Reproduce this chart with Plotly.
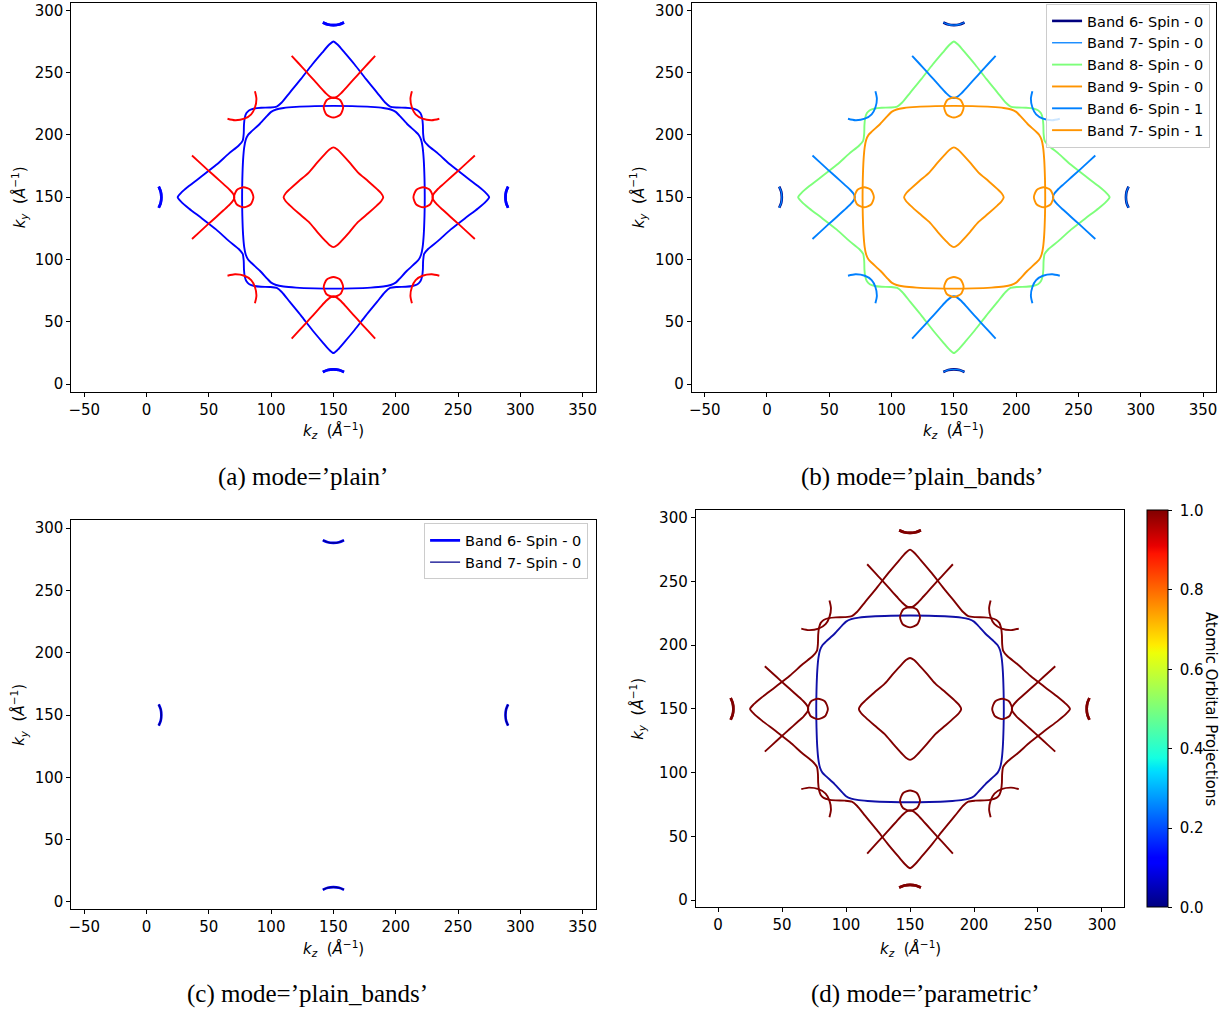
import plotly.graph_objects as go

# ---------------- data (k_z, k_y) ----------------
# Band 8 / spin 0 : outer contour
OUTER_X = [150,146.5,141,133,124,115,108.5,104.5,99,92,86.5,82.5,80.2,78.8,78.2,78,77.2,74,66,56,44.5,34,27.7,25,
           27.7,34,44.5,56,66,74,77.2,78,78.2,78.8,80.2,82.5,86.5,92,99,104.5,108.5,115,124,133,141,146.5,150,
           153.5,159,167,176,185,191.5,195.5,201,208,213.5,217.5,219.8,221.2,221.8,222,222.8,226,234,244,255.5,266,272.3,275,
           272.3,266,255.5,244,234,226,222.8,222,221.8,221.2,219.8,217.5,213.5,208,201,195.5,191.5,185,176,167,159,153.5,150]
OUTER_Y = [275,272.3,266,256.5,245,234,226,222.8,222,221.8,221.2,219.8,217.5,213.5,208,201,195.5,191.5,185,176,167,159,153.5,150,
           146.5,141,133,124,115,108.5,104.5,99,92,86.5,82.5,80.2,78.8,78.2,78,77.2,74,66,55,43.5,34,27.7,25,
           27.7,34,43.5,55,66,74,77.2,78,78.2,78.8,80.2,82.5,86.5,92,99,104.5,108.5,115,124,133,141,146.5,150,
           153.5,159,167,176,185,191.5,195.5,201,208,213.5,217.5,219.8,221.2,221.8,222,222.8,226,234,245,256.5,266,272.3,275]

# Band 9 / spin 0 : rounded square
INNER_X = [150,135,120,110,104,100,97,91,84.5,81.5,79.6,78.4,77.5,76.9,76.7,
           76.9,77.5,78.4,79.6,81.5,84.5,91,97,100,104,110,120,135,150,
           165,180,190,196,200,203,209,215.5,218.5,220.4,221.6,222.5,223.1,223.3,
           223.1,222.5,221.6,220.4,218.5,215.5,209,203,200,196,190,180,165,150]
INNER_Y = [223.3,223.1,222.5,221.6,220.4,218.5,215.5,209,203,200,196,190,180,165,150,
           135,120,110,104,100,97,91,84.5,81.5,79.6,78.4,77.5,76.9,76.7,
           76.9,77.5,78.4,79.6,81.5,84.5,91,97,100,104,110,120,135,150,
           165,180,190,196,200,203,209,215.5,218.5,220.4,221.6,222.5,223.1,223.3]

# Band 7 / spin 1 : central diamond and four small pockets
DIAMOND_X = [150,146.8,143.5,137.1,130.2,122.1,115,111.7,110,111.7,115,122.1,130.2,137.1,143.5,146.8,150,
             153.2,156.5,162.9,169.8,177.9,185,188.3,190,188.3,185,177.9,169.8,162.9,156.5,153.2,150]
DIAMOND_Y = [190,188.3,185,177.9,169.8,162.9,156.5,153.2,150,146.8,143.5,137.1,130.2,122.1,115,111.7,110,
             111.7,115,122.1,130.2,137.1,143.5,146.8,150,153.2,156.5,162.9,169.8,177.9,185,188.3,190]
POCKET_TOP_X = [157.8,155.5,150,144.5,142.2,144.5,150,155.5,157.8]
POCKET_TOP_Y = [222,227.8,230,227.8,222,216.2,214,216.2,222]
POCKET_BOT_X = [157.8,155.5,150,144.5,142.2,144.5,150,155.5,157.8]
POCKET_BOT_Y = [78,83.8,86,83.8,78,72.2,70,72.2,78]
POCKET_LEFT_X = [85.8,83.5,78,72.5,70.2,72.5,78,83.5,85.8]
POCKET_LEFT_Y = [150,155.8,158,155.8,150,144.2,142,144.2,150]
POCKET_RIGHT_X = [229.8,227.5,222,216.5,214.2,216.5,222,227.5,229.8]
POCKET_RIGHT_Y = [150,155.8,158,155.8,150,144.2,142,144.2,150]

# Band 6 / spin 1 : crossing branches and corner arcs
XTOP_X = [116.5,122,128,134,139.5,144,147.3,150,152.7,156,160.5,166,172,178,183.5]
XTOP_Y = [263.5,257.5,251,244.3,238.2,233.3,230.5,229.5,230.5,233.3,238.2,244.3,251,257.5,263.5]
XBOT_X = [116.5,122,128,134,139.5,144,147.3,150,152.7,156,160.5,166,172,178,183.5]
XBOT_Y = [36.5,42.5,49,55.7,61.8,66.7,69.5,70.5,69.5,66.7,61.8,55.7,49,42.5,36.5]
XLEFT_X = [36.5,42.5,49,55.7,61.8,66.7,69.5,70.5,69.5,66.7,61.8,55.7,49,42.5,36.5]
XLEFT_Y = [183.5,178,172,166,160.5,156,152.7,150,147.3,144,139.5,134,128,122,116.5]
XRIGHT_X = [263.5,257.5,251,244.3,238.2,233.3,230.5,229.5,230.5,233.3,238.2,244.3,251,257.5,263.5]
XRIGHT_Y = [183.5,178,172,166,160.5,156,152.7,150,147.3,144,139.5,134,128,122,116.5]
ARC_TL_X = [87,88.2,87,84,78.5,71,65]
ARC_TL_Y = [235,229,222,216.5,213,211.8,213]
ARC_TR_X = [213,211.8,213,216,221.5,229,235]
ARC_TR_Y = [235,229,222,216.5,213,211.8,213]
ARC_BL_X = [87,88.2,87,84,78.5,71,65]
ARC_BL_Y = [65,71,78,83.5,87,88.2,87]
ARC_BR_X = [213,211.8,213,216,221.5,229,235]
ARC_BR_Y = [65,71,78,83.5,87,88.2,87]

# Bands 6 and 7 / spin 0 : small arcs at the zone edges
EDGE_TOP_X = [141.5,145.5,150,154.5,158.5]
EDGE_TOP_Y = [290.2,288.6,288.1,288.6,290.2]
EDGE_BOT_X = [141.5,145.5,150,154.5,158.5]
EDGE_BOT_Y = [9.8,11.4,11.9,11.4,9.8]
EDGE_LEFT_X = [9.8,11.4,11.9,11.4,9.8]
EDGE_LEFT_Y = [141.5,145.5,150,154.5,158.5]
EDGE_RIGHT_X = [290.2,288.6,288.1,288.6,290.2]
EDGE_RIGHT_Y = [141.5,145.5,150,154.5,158.5]

X_TICKS = [-50, 0, 50, 100, 150, 200, 250, 300, 350]
X_TICKS_D = [0, 50, 100, 150, 200, 250, 300]
Y_TICKS = [0, 50, 100, 150, 200, 250, 300]
CB_TICKS = [0.0, 0.2, 0.4, 0.6, 0.8, 1.0]
CAPTIONS = ["(a) mode=’plain’", "(b) mode=’plain_bands’",
            "(c) mode=’plain_bands’", "(d) mode=’parametric’"]
LEGEND_B = ["Band 6- Spin - 0", "Band 7- Spin - 0", "Band 8- Spin - 0",
            "Band 9- Spin - 0", "Band 6- Spin - 1", "Band 7- Spin - 1"]


def join(*segs):
    xs, ys = [], []
    for sx, sy in segs:
        if xs:
            xs.append(None)
            ys.append(None)
        xs += list(sx)
        ys += list(sy)
    return xs, ys


EDGES = join((EDGE_TOP_X, EDGE_TOP_Y), (EDGE_BOT_X, EDGE_BOT_Y),
             (EDGE_LEFT_X, EDGE_LEFT_Y), (EDGE_RIGHT_X, EDGE_RIGHT_Y))
BANDS = {
    "b6s0": EDGES,
    "b7s0": EDGES,
    "b8s0": (OUTER_X, OUTER_Y),
    "b9s0": (INNER_X, INNER_Y),
    "b6s1": join((XTOP_X, XTOP_Y), (XBOT_X, XBOT_Y), (XLEFT_X, XLEFT_Y), (XRIGHT_X, XRIGHT_Y),
                 (ARC_TL_X, ARC_TL_Y), (ARC_TR_X, ARC_TR_Y), (ARC_BL_X, ARC_BL_Y), (ARC_BR_X, ARC_BR_Y)),
    "b7s1": join((DIAMOND_X, DIAMOND_Y), (POCKET_TOP_X, POCKET_TOP_Y), (POCKET_BOT_X, POCKET_BOT_Y),
                 (POCKET_LEFT_X, POCKET_LEFT_Y), (POCKET_RIGHT_X, POCKET_RIGHT_Y)),
}
ORDER = ["b6s0", "b7s0", "b8s0", "b9s0", "b6s1", "b7s1"]

fig = go.Figure()
W, H = 1228, 1012


def add(key, color, ax, width=1.9, name=None, legend=None):
    x, y = BANDS[key]
    fig.add_trace(go.Scatter(
        x=x, y=y, mode="lines",
        line=dict(color=color, width=width, shape="spline", smoothing=0.7),
        xaxis="x" + ax, yaxis="y" + ax,
        name=name or key, showlegend=legend is not None,
        legend=legend or "legend", hoverinfo="skip"))


# (a) plain: spin 0 blue, spin 1 red
for k in ORDER:
    w = 2.6 if k in ("b6s0", "b7s0") else 1.9
    add(k, "#0000ff" if k.endswith("s0") else "#ff0000", "", width=w)

# (b) plain_bands
B_COLORS = {"b6s0": "#00007f", "b7s0": "#0080ff", "b8s0": "#7dff7a",
            "b9s0": "#ff9400", "b6s1": "#0080ff", "b7s1": "#ff9400"}
for k, nm in zip(ORDER, LEGEND_B):
    w = 2.6 if k == "b6s0" else (1.3 if k == "b7s0" else 1.9)
    add(k, B_COLORS[k], "2", width=w, name=nm, legend="legend")

# (c) plain_bands, only bands 6, 7 spin 0
add("b6s0", "#0000ff", "3", width=2.6, name=LEGEND_B[0], legend="legend2")
add("b7s0", "#00008b", "3", width=1.3, name=LEGEND_B[1], legend="legend2")

# (d) parametric
for k in ORDER:
    w = 2.6 if k in ("b6s0", "b7s0") else 1.9
    add(k, "#1010a8" if k == "b9s0" else "#800000", "4", width=w)

JET = [[0.0, "rgb(0,0,128)"], [0.11, "rgb(0,0,255)"], [0.125, "rgb(0,0,255)"],
       [0.34, "rgb(0,219,255)"], [0.35, "rgb(0,230,247)"], [0.375, "rgb(20,255,226)"],
       [0.5, "rgb(124,255,122)"], [0.64, "rgb(238,255,8)"], [0.66, "rgb(255,236,0)"],
       [0.89, "rgb(255,19,0)"], [0.91, "rgb(232,0,0)"], [1.0, "rgb(128,0,0)"]]
FONT = dict(family="DejaVu Sans", size=15, color="black")
LFONT = dict(family="DejaVu Sans", size=14.5, color="black")

fig.add_trace(go.Scatter(
    x=[None], y=[None], mode="markers", xaxis="x4", yaxis="y4", showlegend=False,
    marker=dict(color=[0.5], cmin=0, cmax=1, colorscale=JET, showscale=True,
                colorbar=dict(x=1148 / W, xanchor="left", y=1 - 511 / H, yanchor="top",
                              len=(909 - 511) / H, lenmode="fraction", thickness=21,
                              thicknessmode="pixels", xpad=0, ypad=0,
                              outlinewidth=1, outlinecolor="black",
                              ticks="outside", ticklen=4, tickcolor="black",
                              tickvals=CB_TICKS, ticktext=[f" {v:.1f}" for v in CB_TICKS],
                              tickfont=FONT)),
    hoverinfo="skip"))


def axis(dom, rng, ticks, anchor):
    return dict(domain=dom, range=rng, tickvals=ticks, ticktext=[str(t).replace("-", "−") for t in ticks],
                showline=True, linecolor="black", linewidth=1, mirror=True,
                ticks="outside", ticklen=4, tickwidth=1, tickcolor="black",
                showgrid=False, zeroline=False, tickfont=FONT, anchor=anchor, fixedrange=True)


def px_x(a, b):
    return [a / W, b / W]


def px_y(top, bot):
    return [1 - bot / H, 1 - top / H]


XR = [-60.4, 360.4]
fig.update_layout(
    width=W, height=H, margin=dict(l=0, r=0, t=0, b=0),
    paper_bgcolor="white", plot_bgcolor="white",
    xaxis=axis(px_x(68.5, 594.5), XR, X_TICKS, "y"),
    yaxis=axis(px_y(1.7, 391.7), [-5.9, 306.1], Y_TICKS, "x"),
    xaxis2=axis(px_x(691, 1217), XR, X_TICKS, "y2"),
    yaxis2=axis(px_y(1.7, 391.7), [-5.9, 306.1], Y_TICKS, "x2"),
    xaxis3=axis(px_x(68.5, 594.5), XR, X_TICKS, "y3"),
    yaxis3=axis(px_y(521, 911), [-5.9, 306.1], Y_TICKS, "x3"),
    xaxis4=axis(px_x(695, 1125), [-17.5, 317.5], X_TICKS_D, "y4"),
    yaxis4=axis(px_y(511, 909), [-5.7, 305.7], Y_TICKS, "x4"),
    legend=dict(x=1211 / W, xanchor="right", y=1 - 3 / H, yanchor="top",
                bgcolor="rgba(255,255,255,0.8)", bordercolor="#cccccc", borderwidth=1,
                font=LFONT, itemwidth=30, tracegroupgap=0),
    legend2=dict(x=587 / W, xanchor="right", y=1 - 524 / H, yanchor="top",
                 bgcolor="rgba(255,255,255,0.8)", bordercolor="#cccccc", borderwidth=1,
                 font=LFONT, itemwidth=30, tracegroupgap=0),
    showlegend=True,
)

XT = "<i>k</i><sub><i>z</i></sub>\u00a0\u00a0(<i>Å</i><sup>−1</sup>)"
YT = "<i>k</i><sub><i>y</i></sub>\u00a0\u00a0(<i>Å</i><sup>−1</sup>)"
ann = []
for cx, cy in [(331.5, 431), (954, 431), (331.5, 950), (910, 950)]:
    ann.append(dict(x=cx / W, y=1 - cy / H, xref="paper", yref="paper", text=XT, showarrow=False,
                    font=FONT, xanchor="center", yanchor="middle"))
for cx, cy in [(16, 197), (637, 197), (16, 716), (637, 710)]:
    ann.append(dict(x=cx / W, y=1 - cy / H, xref="paper", yref="paper", text=YT, showarrow=False,
                    font=FONT, xanchor="center", yanchor="middle", textangle=-90))
for (cx, cy), t in zip([(301, 477), (923, 477), (305, 996), (926, 996)], CAPTIONS):
    ann.append(dict(x=cx / W, y=1 - cy / H, xref="paper", yref="paper", text=t, showarrow=False,
                    font=dict(family="Liberation Serif", size=25, color="black"),
                    xanchor="center", yanchor="middle"))
ann.append(dict(x=1212 / W, y=1 - 710 / H, xref="paper", yref="paper", text="Atomic Orbital Projections",
                showarrow=False, font=FONT, xanchor="center", yanchor="middle", textangle=90))
fig.update_layout(annotations=ann)

fig.write_html("out.html")
